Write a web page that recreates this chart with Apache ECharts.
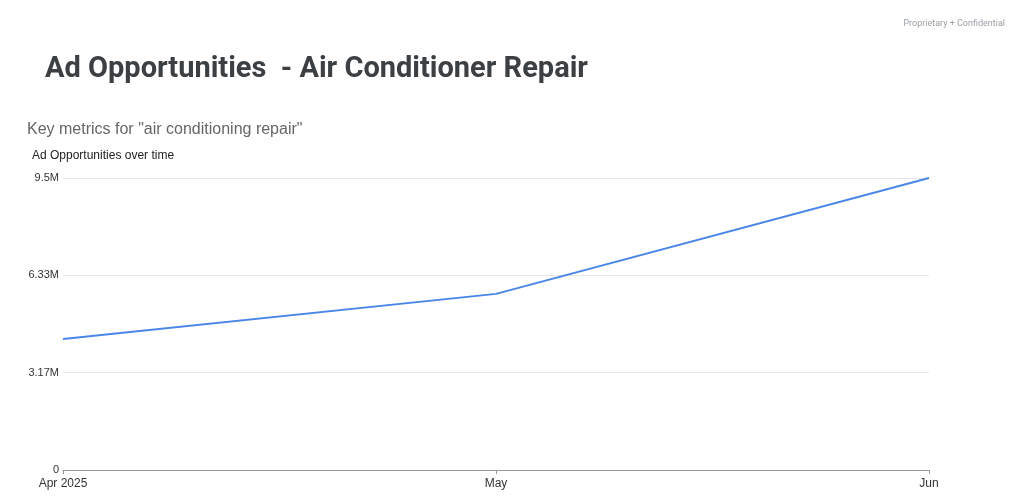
<!DOCTYPE html>
<html>
<head>
<meta charset="utf-8">
<script src="https://cdn.jsdelivr.net/npm/echarts@6/dist/echarts.min.js"></script>
<style>html,body{margin:0;padding:0;background:#fff}#chart{width:1024px;height:504px}</style>
</head>
<body>
<div id="chart"></div>
<script>
const months = ['Apr 2025', 'May', 'Jun'];
const opportunities = [4260000, 5730000, 9500000];
const tickLabels = ['0', '3.17M', '6.33M', '9.5M'];

const chart = echarts.init(document.getElementById('chart'));
chart.setOption({
    backgroundColor: '#fff',
    animation: false,
    title: [{
        text: 'Ad Opportunities  - Air Conditioner Repair',
        left: 40, top: 50,
        textStyle: {fontFamily: 'Roboto', fontSize: 29, fontWeight: 'bold', color: '#3c4043'}
    }, {
        text: 'Key metrics for "air conditioning repair"',
        left: 22, top: 117,
        textStyle: {fontFamily: 'Arial, Liberation Sans', fontSize: 16, fontWeight: 'normal', color: '#666'}
    }, {
        text: 'Ad Opportunities over time',
        left: 27, top: 145,
        textStyle: {fontFamily: 'Arial, Liberation Sans', fontSize: 12, fontWeight: 'normal', color: '#222'}
    }, {
        text: 'Proprietary + Confidential',
        right: 14, top: 14,
        textStyle: {fontFamily: 'Roboto', fontSize: 9, fontWeight: 'normal', color: '#9aa0a6'}
    }],
    grid: {left: 63, right: 95, top: 178, bottom: 34},
    xAxis: {
        type: 'category',
        data: months,
        boundaryGap: false,
        axisLine: {lineStyle: {color: '#999'}},
        axisTick: {show: true, length: 4, lineStyle: {color: '#999'}},
        axisLabel: {color: '#333', fontSize: 12, fontFamily: 'Arial, Liberation Sans', margin: 8}
    },
    yAxis: {
        type: 'value',
        min: 0, max: 9500000, interval: 9500000 / 3,
        axisLine: {show: false},
        axisTick: {show: false},
        splitLine: {lineStyle: {color: '#e6e6e6'}},
        axisLabel: {
            color: '#333', fontSize: 11, fontFamily: 'Arial, Liberation Sans', margin: 4,
            formatter: (v) => tickLabels[Math.round(v / (9500000 / 3))]
        }
    },
    series: [{
        type: 'line',
        data: opportunities,
        showSymbol: false,
        lineStyle: {color: '#4a86e8', width: 2},
        itemStyle: {color: '#4a86e8'}
    }]
});
</script>
</body>
</html>
